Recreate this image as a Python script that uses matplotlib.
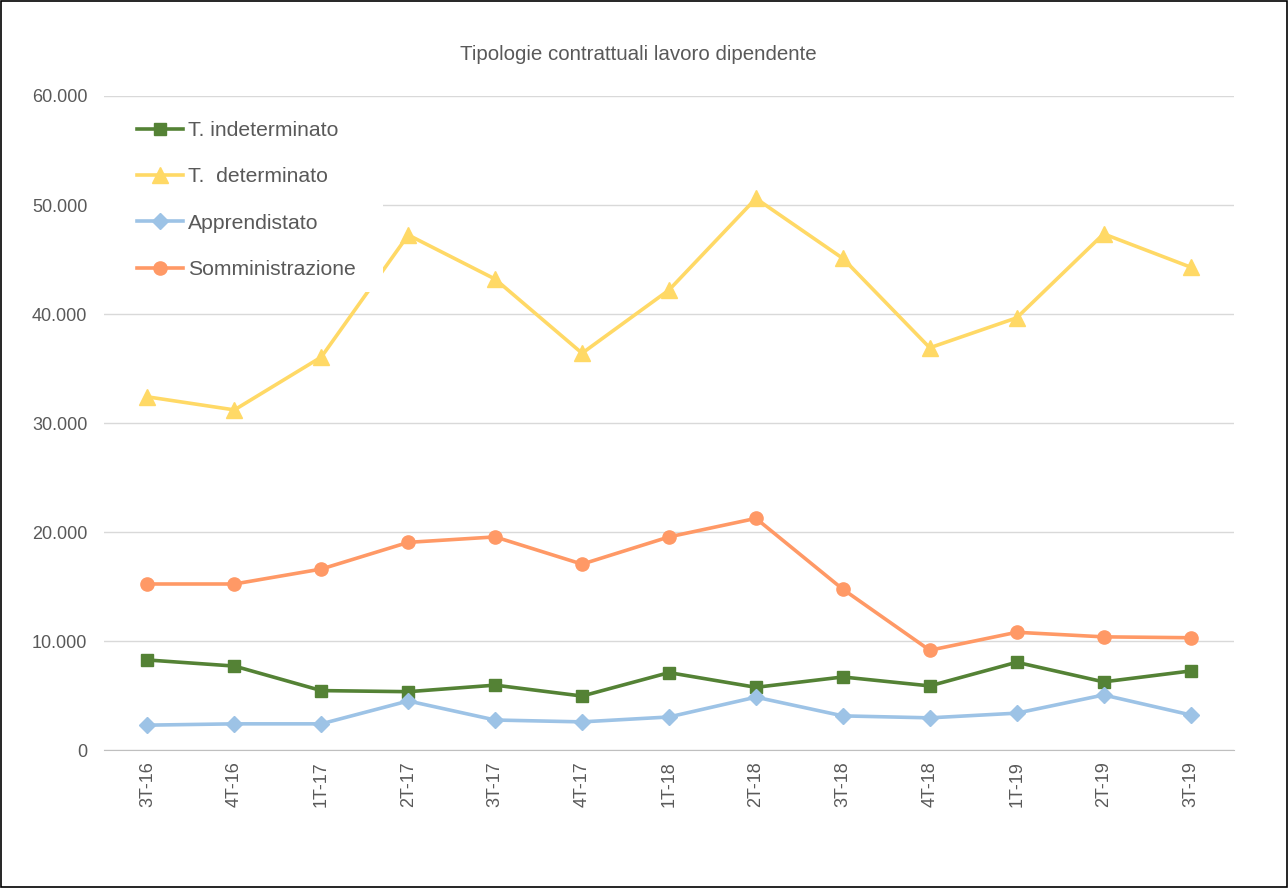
import matplotlib
matplotlib.use('Agg')
import matplotlib.pyplot as plt
from matplotlib.ticker import FuncFormatter

plt.rcParams['font.family'] = ['Liberation Sans', 'DejaVu Sans']

# dati
trimestri = ['3T-16', '4T-16', '1T-17', '2T-17', '3T-17', '4T-17', '1T-18',
             '2T-18', '3T-18', '4T-18', '1T-19', '2T-19', '3T-19']
indeterminato = [8260, 7700, 5450, 5350, 5950, 4950, 7100, 5750, 6700, 5880, 8050, 6250, 7250]
determinato = [32400, 31200, 36050, 47250, 43200, 36400, 42200, 50600, 45100, 36900, 39650, 47350, 44300]
apprendistato = [2280, 2400, 2400, 4500, 2750, 2580, 3030, 4850, 3130, 2950, 3380, 5050, 3220]
somministrazione = [15230, 15230, 16600, 19050, 19550, 17050, 19550, 21250, 14750, 9150, 10800, 10380, 10300]

W, H = 1288, 888
fig = plt.figure(figsize=(W / 100, H / 100), dpi=100)
ax = fig.add_axes([104 / W, 1 - 750 / H, 1130 / W, 654 / H])

x = range(len(trimestri))
ax.plot(x, indeterminato, color='#548235', lw=2.6, marker='s', ms=9, label='T. indeterminato')
ax.plot(x, determinato, color='#FFD966', lw=2.6, marker='^', ms=11, label='T.  determinato')
ax.plot(x, apprendistato, color='#9DC3E6', lw=2.6, marker='D', ms=8, label='Apprendistato')
ax.plot(x, somministrazione, color='#FF9966', lw=2.6, marker='o', ms=9.5, label='Somministrazione')

ax.set_xlim(-0.5, len(trimestri) - 0.5)
ax.set_ylim(0, 60000)
ax.set_yticks(range(0, 60001, 10000))
ax.yaxis.set_major_formatter(FuncFormatter(lambda v, p: f'{int(v):,}'.replace(',', '.')))
ax.set_xticks(list(x))
ax.set_xticklabels(trimestri, rotation=90)
ax.tick_params(axis='both', length=0, labelsize=13, colors='#595959')
ax.tick_params(axis='y', pad=12)
ax.tick_params(axis='x', pad=8)
ax.grid(axis='y', color='#D9D9D9', lw=1)
ax.set_axisbelow(True)
for s in ['top', 'right', 'left']:
    ax.spines[s].set_visible(False)
ax.spines['bottom'].set_color('#BFBFBF')

fig.text(638 / W, 1 - 55 / H, 'Tipologie contrattuali lavoro dipendente', fontsize=14.8,
         color='#595959', ha='center', va='center')

# sfondo bianco della legenda (copre griglia e linee come in Excel)
ax.add_patch(plt.Rectangle((104 / W, 1 - 292 / H), 279 / W, 192 / H, transform=fig.transFigure,
                           facecolor='white', edgecolor='none', zorder=3, clip_on=False))

leg = ax.legend(loc='upper left', bbox_to_anchor=(137 / W, 1 - 121 / H), bbox_transform=fig.transFigure,
                fontsize=15.2, frameon=False, handlelength=2.2, labelspacing=1.3,
                borderaxespad=0, borderpad=0, handletextpad=0.2)
for t in leg.get_texts():
    t.set_color('#595959')
leg.set_zorder(5)

# cornice esterna
fig.patches.append(plt.Rectangle((0.001, 0.001), 0.998, 0.998, transform=fig.transFigure,
                                 fill=False, edgecolor='black', lw=1.2))

fig.savefig('out.png', dpi=100)
